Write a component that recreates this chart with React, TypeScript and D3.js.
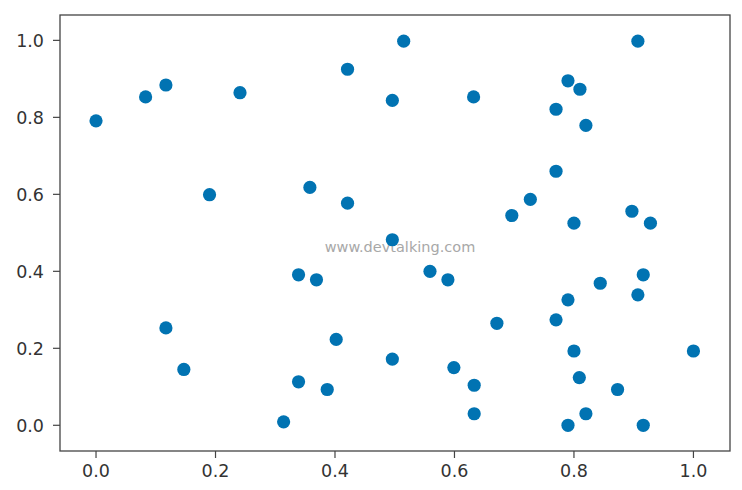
import React from "react";
import * as d3 from "d3";

const xValues = [
  0.0, 0.083, 0.117, 0.241, 0.19,
  0.117, 0.147,
  0.339, 0.369, 0.402, 0.496, 0.559, 0.589, 0.671, 0.599, 0.633, 0.633, 0.339, 0.387, 0.314, 0.496,
  0.916, 0.844, 0.907, 0.79, 0.77, 0.8, 1.0, 0.809, 0.873, 0.82, 0.79, 0.916,
  0.515, 0.421, 0.496, 0.632, 0.358, 0.421,
  0.907, 0.79, 0.81, 0.77, 0.82, 0.77, 0.727, 0.696, 0.8, 0.897, 0.928,
];
const yValues = [
  0.791, 0.853, 0.884, 0.864, 0.599,
  0.253, 0.145,
  0.391, 0.378, 0.223, 0.172, 0.4, 0.378, 0.265, 0.15, 0.104, 0.03, 0.113, 0.093, 0.009, 0.482,
  0.391, 0.369, 0.339, 0.326, 0.274, 0.193, 0.193, 0.124, 0.093, 0.03, 0.0, 0.0,
  0.998, 0.925, 0.844, 0.853, 0.618, 0.577,
  0.998, 0.895, 0.873, 0.821, 0.779, 0.66, 0.587, 0.545, 0.525, 0.556, 0.525,
];
const xTicks = [0, 0.2, 0.4, 0.6, 0.8, 1.0];
const yTicks = [0, 0.2, 0.4, 0.6, 0.8, 1.0];
const watermark = "www.devtalking.com";

export default function App() {
  const W = 742, H = 490;
  const left = 60, right = 730, top = 15, bottom = 451;
  const x = d3.scaleLinear().domain([-0.0603, 1.0612]).range([left, right]);
  const y = d3.scaleLinear().domain([-0.0668, 1.0659]).range([bottom, top]);
  const fmt = d3.format(".1f");
  const font = "DejaVu Sans, sans-serif";
  return (
    <svg width={W} height={H} style={{ position: "absolute", left: 0, top: 0, background: "#fff" }}>
      <text x={400} y={252} textAnchor="middle" fontFamily={font} fontSize={14.5} fill="#a8a8a8">
        {watermark}
      </text>
      {xValues.map((v, i) => (
        <circle key={i} cx={x(v)} cy={y(yValues[i])} r={6.6} fill="#0173b2" />
      ))}
      <rect x={left} y={top} width={right - left} height={bottom - top} fill="none" stroke="#444" strokeWidth={1.3} />
      {xTicks.map((t) => (
        <g key={"x" + t}>
          <line x1={x(t)} x2={x(t)} y1={bottom} y2={bottom + 7} stroke="#444" strokeWidth={1.2} />
          <text x={x(t)} y={bottom + 26} textAnchor="middle" fontFamily={font} fontSize={17.5} fill="#333">
            {fmt(t)}
          </text>
        </g>
      ))}
      {yTicks.map((t) => (
        <g key={"y" + t}>
          <line x1={left - 7} x2={left} y1={y(t)} y2={y(t)} stroke="#444" strokeWidth={1.2} />
          <text x={left - 16} y={y(t) + 6.5} textAnchor="end" fontFamily={font} fontSize={17.5} fill="#333">
            {fmt(t)}
          </text>
        </g>
      ))}
    </svg>
  );
}
